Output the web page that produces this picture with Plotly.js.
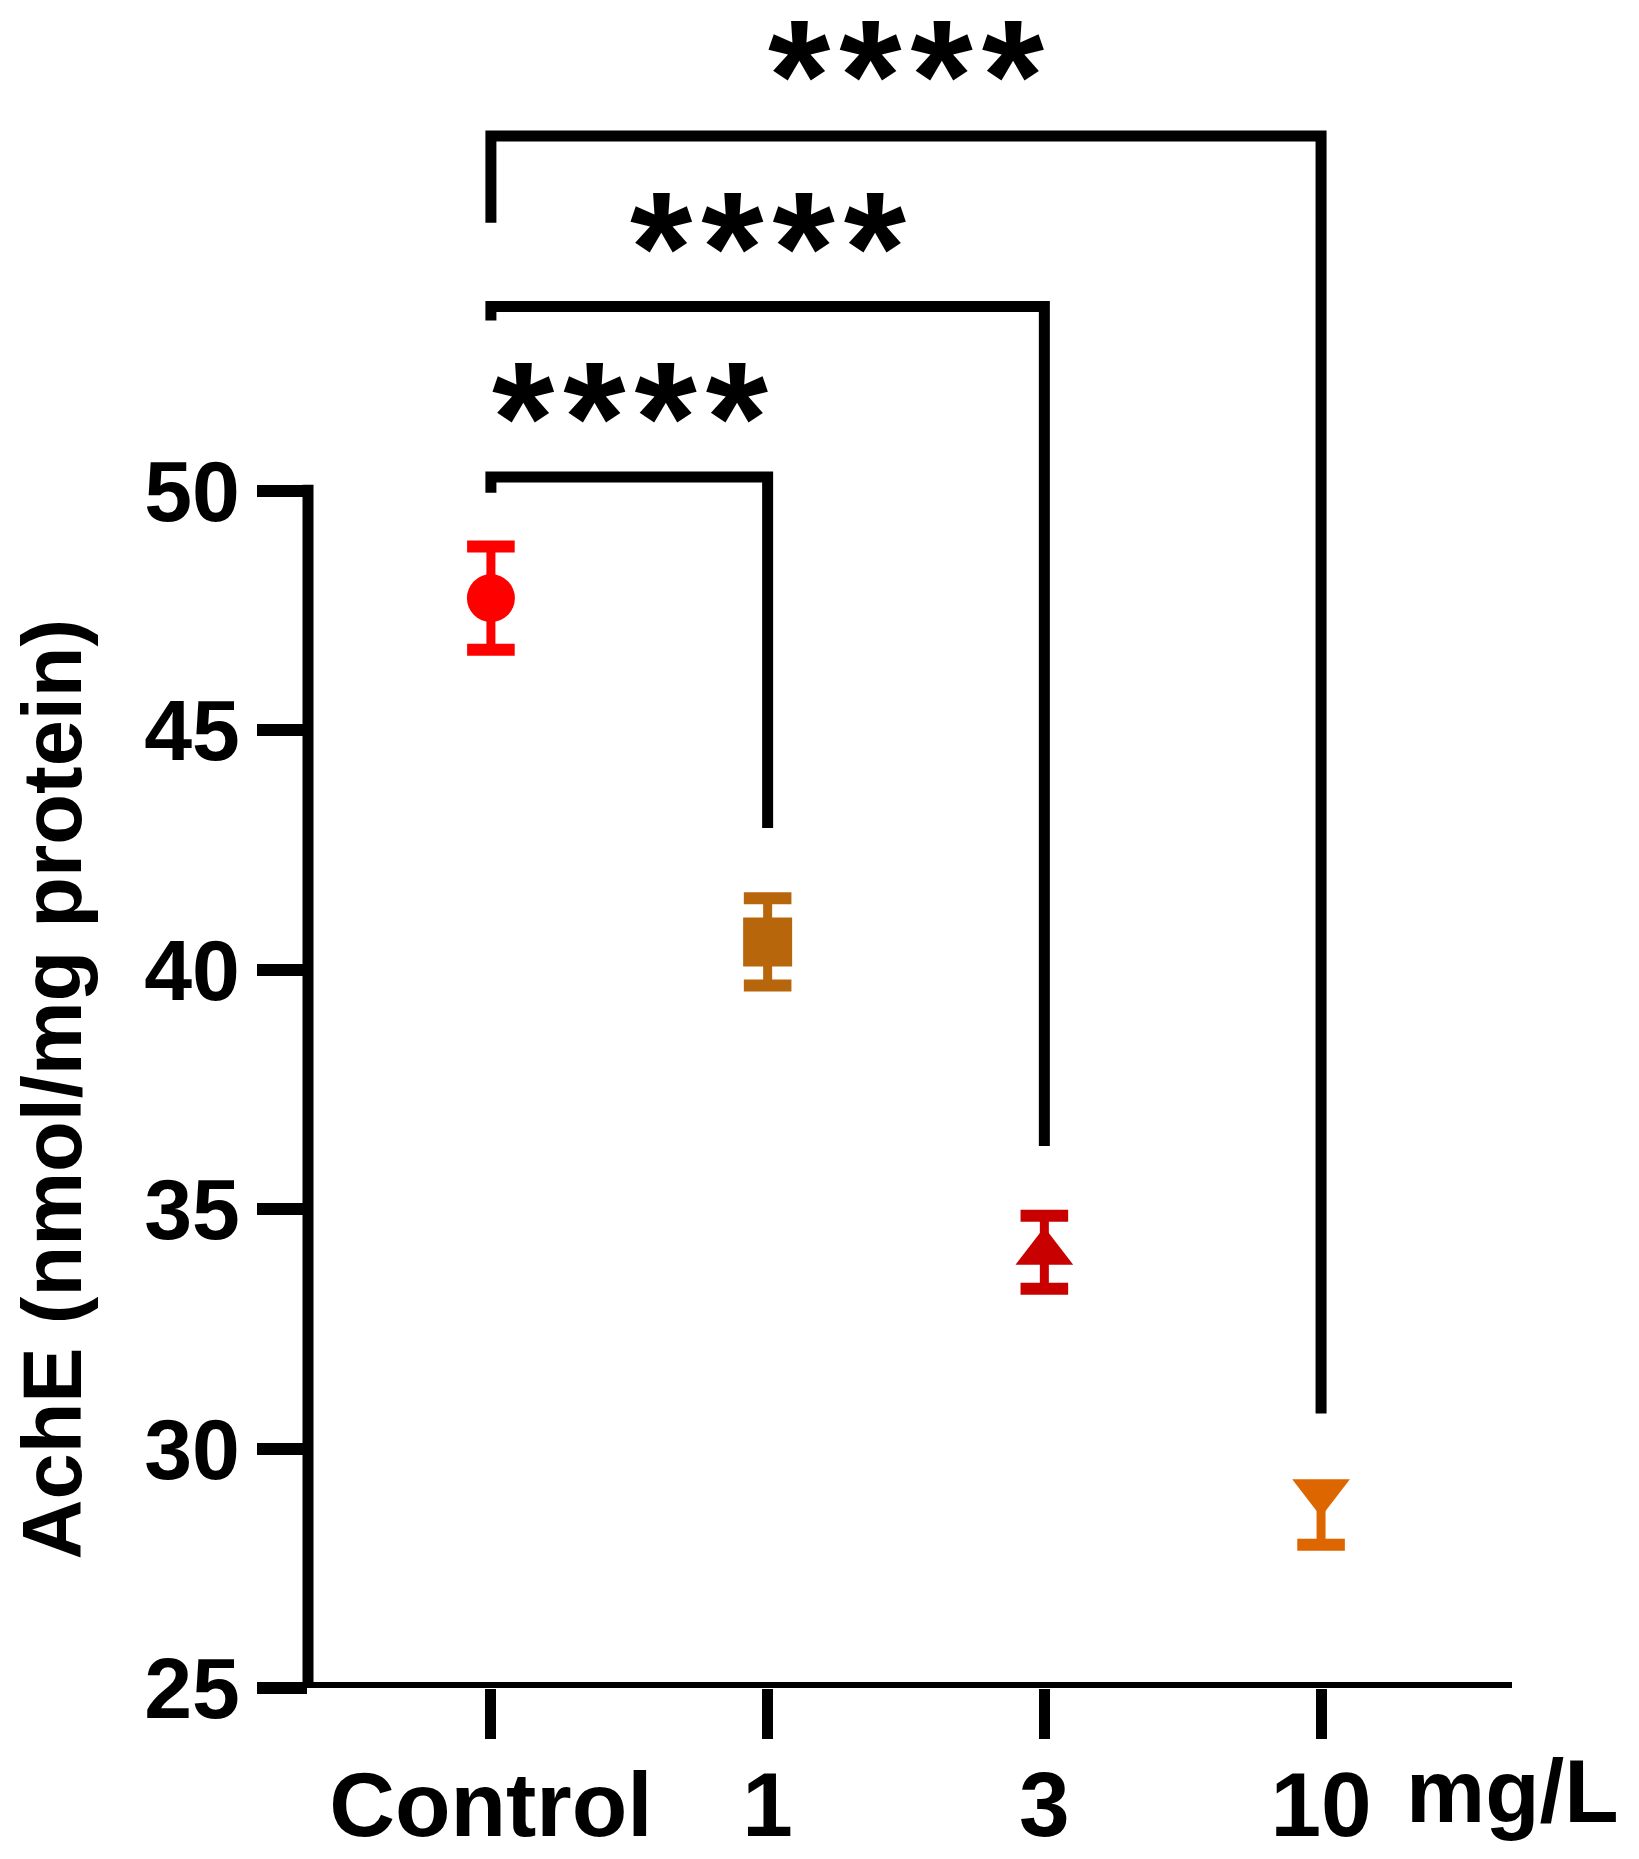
<!DOCTYPE html>
<html>
<head>
<meta charset="utf-8">
<script src="https://cdn.plot.ly/plotly-3.0.1.min.js"></script>
<style>
  html, body { margin: 0; padding: 0; background: #fff; }
  #graph { width: 1639px; height: 1859px; }
</style>
</head>
<body>
<div id="graph"></div>
<script>
// groups on the x axis (mg/L)
const groups = ['Control', '1', '3', '10'];
const groupPos = [0, 1, 2, 3];

// AchE (nmol/mg protein), mean and SD
const achE = [47.76, 40.58, 34.10, 29.10];
const sdUp = [1.08, 0.91, 0.76, 0];
const sdDown = [1.08, 0.91, 0.76, 1.11];

const yTicks = [25, 30, 35, 40, 45, 50];

// significance brackets vs Control
const compareTo = [1, 2, 3];
const sigLabels = ['****', '****', '****'];

const FONT = "Arial, 'Liberation Sans', sans-serif";
const colors = ['#FF0000', '#B8660B', '#C80000', '#DD6600'];
const symbols = ['circle', 'square', 'triangle-up', 'triangle-down'];
const markerSizes = [48, 49, 50, 50];

// bracket geometry in y units: bar height, left stub end, right drop end, label centre
const bracketTop = [50.29, 53.85, 57.41];
const bracketStub = [49.96, 53.56, 55.6];
const bracketDrop = [42.96, 36.32, 30.73];
const labelY = [52.03, 55.58, 59.16];

let traces = [];

// caps of the error bars
groups.forEach((g, i) => {
    const capY = [];
    if (sdUp[i] > 0) capY.push(achE[i] + sdUp[i]);
    if (sdDown[i] > 0) capY.push(achE[i] - sdDown[i]);
    traces.push({
        x: capY.map(() => groupPos[i]),
        y: capY,
        type: 'scatter',
        mode: 'markers',
        marker: { symbol: 'line-ew', size: 34, line: { width: 12, color: colors[i] } },
        hoverinfo: 'skip',
        showlegend: false
    });
});

// group means with the error bar stems
groups.forEach((g, i) => {
    traces.push({
        x: [groupPos[i]],
        y: [achE[i]],
        type: 'scatter',
        mode: 'markers',
        name: g,
        marker: { symbol: symbols[i], size: markerSizes[i], color: colors[i], line: { width: 0 } },
        error_y: {
            type: 'data', symmetric: false,
            array: [sdUp[i]], arrayminus: [sdDown[i]],
            color: colors[i], thickness: 9, width: 0
        },
        showlegend: false
    });
});

// brackets
compareTo.forEach((to, k) => {
    traces.push({
        x: [groupPos[0], groupPos[0], groupPos[to], groupPos[to]],
        y: [bracketStub[k], bracketTop[k], bracketTop[k], bracketDrop[k]],
        type: 'scatter',
        mode: 'lines',
        line: { color: '#000', width: 11 },
        hoverinfo: 'skip',
        showlegend: false
    });
});

const annotations = compareTo.map((to, k) => ({
    x: (groupPos[0] + groupPos[to]) / 2,
    y: labelY[k],
    xref: 'x', yref: 'y',
    text: '<span style="letter-spacing:9px">' + sigLabels[k] + '</span>',
    showarrow: false,
    xanchor: 'center', yanchor: 'middle',
    height: 112,
    xshift: 5,
    yshift: -23,
    font: { family: FONT, size: 160, color: '#000', weight: 'bold' }
}));

// unit label right of the last group
annotations.push({
    x: 1, y: 0, xref: 'paper', yref: 'paper',
    text: 'mg/L',
    showarrow: false,
    xanchor: 'center', yanchor: 'middle',
    yshift: -103,
    font: { family: FONT, size: 89, color: '#000', weight: 'bold' }
});

// y axis title, centred on the 25-50 part of the axis
annotations.push({
    x: 0, y: (yTicks[0] + yTicks[yTicks.length - 1]) / 2,
    xref: 'paper', yref: 'y',
    text: 'AchE (nmol/mg protein)',
    textangle: -90,
    showarrow: false,
    xanchor: 'center', yanchor: 'middle',
    xshift: -256,
    font: { family: FONT, size: 83, color: '#000', weight: 'bold' }
});

const layout = {
    width: 1639,
    height: 1859,
    paper_bgcolor: '#fff',
    plot_bgcolor: '#fff',
    showlegend: false,
    margin: { l: 308, r: 127, t: 12, b: 171 },
    font: { family: FONT, color: '#000' },
    xaxis: {
        range: [-0.661, 3.69],
        tickvals: groupPos,
        ticktext: groups,
        ticks: 'outside', ticklen: 50, tickwidth: 11, tickcolor: '#000',
        ticklabelstandoff: -12,
        showline: false, showgrid: false, zeroline: false,
        tickfont: { family: FONT, size: 91, color: '#000', weight: 'bold' },
        fixedrange: true
    },
    yaxis: {
        range: [25, 60],
        tickvals: yTicks,
        ticks: 'outside', ticklen: 50, tickwidth: 12, tickcolor: '#000',
        showline: false, showgrid: false, zeroline: false,
        tickfont: { family: FONT, size: 86, color: '#000', weight: 'bold' },
        fixedrange: true
    },
    shapes: [
        // y axis line stops at 50
        { type: 'line', xref: 'paper', yref: 'y', x0: 0, x1: 0, y0: 25, y1: 50.13,
          line: { color: '#000', width: 11 } },
        // x axis line
        { type: 'line', xref: 'paper', yref: 'y', x0: 0, x1: 1, y0: 25, y1: 25,
          line: { color: '#000', width: 12 } }
    ],
    annotations: annotations
};

Plotly.newPlot('graph', traces, layout, { displayModeBar: false, staticPlot: true });
</script>
</body>
</html>
